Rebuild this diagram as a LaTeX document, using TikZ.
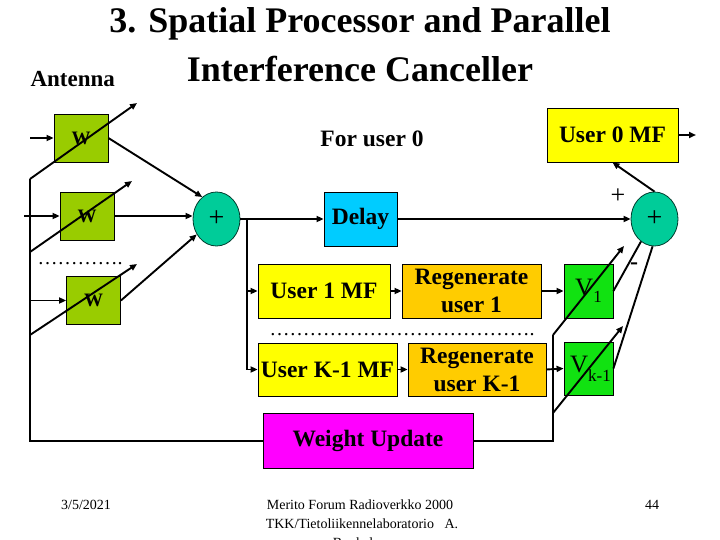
\documentclass[tikz,border=0pt]{standalone}
\usepackage{fontspec}
\setmainfont{Liberation Serif}
\usetikzlibrary{arrows.meta,shapes.geometric}
\definecolor{wgreen}{RGB}{153,204,0}
\definecolor{sumteal}{RGB}{0,204,153}
\definecolor{vgreen}{RGB}{17,226,17}
\definecolor{delayblue}{RGB}{0,204,255}
\definecolor{mfyellow}{RGB}{255,255,0}
\definecolor{regorange}{RGB}{255,204,0}
\definecolor{wumagenta}{RGB}{255,0,255}
\newcommand{\myfs}[1]{\fontsize{#1}{#1}\selectfont}
\newcommand{\myell}{\symbol{"2026}}
\begin{document}
\begin{tikzpicture}[x=1pt,y=-1pt,
  box/.style={draw=black, line width=0.8pt, rectangle, inner sep=0pt, font=\bfseries\fontsize{23.5}{28}\selectfont, align=center},
  sumnode/.style={draw=black!70!sumteal, line width=0.8pt, ellipse, fill=sumteal, minimum width=47pt, minimum height=54pt, inner sep=0pt, font=\myfs{28}},
  wbox/.style={draw=black, line width=0.8pt, fill=wgreen, minimum width=54pt, minimum height=48pt, inner sep=0pt, font=\bfseries\myfs{19}},
  vbox/.style={draw=black, line width=0.8pt, fill=vgreen, minimum width=49pt, minimum height=54pt, inner sep=0pt, font=\myfs{25}},
  conn/.style={line width=1.9pt, -{Triangle[length=7pt,width=6pt]}},
  wire/.style={line width=1.9pt},
  thinwire/.style={line width=1.2pt}
]
\useasboundingbox (0,0) rectangle (720,540);

% title
\node[anchor=base, font=\bfseries\myfs{36}] (t1) at (360,33) {3. Spatial Processor and Parallel};
\node[anchor=base, font=\bfseries\myfs{36}] (t2) at (360,82) {Interference Canceller};
\node[anchor=base west, font=\bfseries\myfs{23}] (ant) at (27,87) {Antenna};

% weight boxes
\node[wbox] (W1) at (81,138) {W};
\node[wbox] (W2) at (87,216) {W};
\node[wbox] (W3) at (93.5,300.5) {W};
\node[anchor=base, font=\myfs{20}] (ldots) at (80,264) {\myell\myell\myell\myell.};

% inputs
\coordinate (in1) at (30,138);
\coordinate (in2) at (24,216);
\coordinate (in3) at (30,300.5);
\draw[conn] (in1) -- (W1.west);
\draw[conn] (in2) -- (W2.west);
\draw[conn] (in3) -- (W3.west);

% sum 1
\node[sumnode] (sum1) at (216.5,219) {+};
\draw[conn] (W1.east) -- (sum1.123);
\draw[conn] (W2.east) -- (W2.east -| sum1.west);
\draw[conn] (W3.east) -- (sum1.218);

% adaptive diagonals on W boxes
\coordinate (d1s) at (30,179);
\coordinate (d1e) at (137,103);
\coordinate (d2s) at (30,252);
\coordinate (d2e) at (132,181);
\coordinate (d3s) at (30,335);
\coordinate (d3e) at (137,264);
\draw[conn] (d1s) -- (d1e);
\draw[conn] (d2s) -- (d2e);
\draw[conn] (d3s) -- (d3e);

% upper path
\node[anchor=base, font=\bfseries\myfs{23.5}] (foru) at (372,147) {For user 0};
\node[box, fill=delayblue, minimum width=73pt, minimum height=54pt] (delay) at (360.5,219) {Delay};
\draw[conn] (sum1.east) -- (delay.west);
\node[sumnode] (sum2) at (654.5,219) {+};
\draw[conn] (delay.east) -- (sum2.west);
\node[box, fill=mfyellow, minimum width=131pt, minimum height=54pt] (u0) at (612.5,135) {User 0 MF};
\draw[conn] (sum2.north) -- (u0.south);
\coordinate (out0) at (696,135);
\draw[conn] (u0.east) -- (out0);
\node[font=\myfs{26}] (plus) at (618,196) {+};
\node[font=\bfseries\myfs{24}] (minus) at (634,266) {-};

% lower users
\node[box, fill=mfyellow, minimum width=132pt, minimum height=54pt] (u1) at (324,291) {User 1 MF};
\node[box, fill=regorange, minimum width=139pt, minimum height=54pt] (r1) at (471.5,291) {Regenerate\\user 1};
\node[box, fill=mfyellow, minimum width=139pt, minimum height=53pt] (uk) at (327.5,369.5) {User K-1 MF};
\node[box, fill=regorange, minimum width=138pt, minimum height=53pt] (rk) at (477,369.5) {Regenerate\\user K-1};
\node[anchor=base, font=\myfs{20}] (mdots) at (402,335) {\myell\myell\myell\myell\myell\myell\myell\myell\myell\myell\myell\myell\myell.};

\coordinate (tap) at (247,219);
\draw[thinwire] (tap) -- (tap |- uk.west);
\draw[conn] (tap |- u1.west) -- (u1.west);
\draw[conn] (tap |- uk.west) -- (uk.west);
\draw[conn] (u1.east) -- (r1.west);
\draw[conn] (uk.east) -- (rk.west);

\node[vbox] (v1) at (588.5,291) {V\raisebox{-0.3em}{\myfs{17}1}};
\node[vbox, minimum height=53pt] (vk) at (588.5,368.5) {\hspace*{4pt}V\raisebox{-0.35em}{\myfs{17}k-1}};
\draw[conn] (r1.east) -- (v1.west);
\draw[conn] (rk.east) -- (vk.west);
\draw[wire] (v1.east) -- (sum2.239);
\draw[wire] (vk.east) -- (sum2.266);

\coordinate (e1s) at (553,335);
\coordinate (e1e) at (624,246);
\coordinate (eks) at (553,413);
\coordinate (eke) at (623,326);
\draw[conn] (e1s) -- (e1e);
\draw[conn] (eks) -- (eke);

% weight update
\node[box, fill=wumagenta, minimum width=210pt, minimum height=55pt] (wu) at (368,441) {Weight Update};
\coordinate (bl) at (30,441);
\coordinate (br) at (553,441);
\draw[thinwire] (d1s) -- (bl) -- (wu.west);
\draw[thinwire] (wu.east) -- (br) -- (e1s);

% footer
\node[anchor=base, font=\myfs{14}] (fdate) at (86,509) {3/5/2021};
\node[anchor=base, font=\myfs{14}] (f1) at (360,509) {Merito Forum Radioverkko 2000};
\node[anchor=base, font=\myfs{14}] (f2) at (362,528) {TKK/Tietoliikennelaboratorio\ \ \ A.};
\node[anchor=base, font=\myfs{14}] (f3) at (360,547) {Boukalov};
\node[anchor=base, font=\myfs{14}] (fnum) at (652,509) {44};
\end{tikzpicture}
\end{document}
